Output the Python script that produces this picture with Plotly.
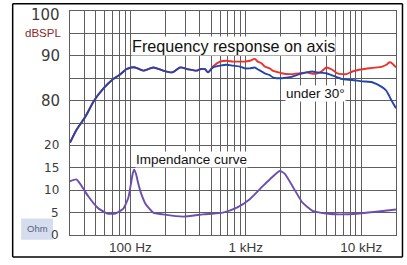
import plotly.graph_objects as go

# ---------------- data ----------------
freq_db = [30, 34, 41, 48, 58, 71, 82, 92, 102, 110, 129, 158, 192, 230, 270, 316, 378, 401,
           443, 470, 520, 597, 686, 773, 888, 980, 1083, 1196, 1269, 1374, 1458, 1610, 1710,
           1850, 2043, 2395, 2922, 3355, 3785, 4180, 4520, 4990, 5510, 6205, 6855, 7430, 8365,
           10200, 12450, 15170, 16500, 17420, 18140, 20000]

spl_30deg = [70.6, 73.4, 76.5, 79.8, 82.6, 84.8, 85.9, 87.0, 87.4, 87.4, 86.7, 87.4, 86.7, 86.3,
             87.4, 87.0, 86.7, 87.0, 87.0, 86.3, 87.4, 87.8, 88.0, 87.8, 87.6, 87.2, 87.2, 87.4,
             87.0, 86.5, 86.1, 85.7, 85.2, 85.0, 85.0, 85.2, 85.9, 86.3, 86.5, 86.3, 86.2, 86.1,
             85.7, 85.2, 84.8, 84.7, 84.6, 84.3, 84.1, 83.0, 82.2, 81.1, 80.2, 78.3]

spl_on_axis = [70.6, 73.4, 76.5, 79.8, 82.6, 84.8, 85.9, 87.0, 87.4, 87.4, 86.7, 87.4, 86.7, 86.3,
               87.4, 87.0, 86.7, 87.0, 87.0, 86.3, 87.6, 88.7, 88.9, 88.7, 88.7, 88.7, 88.9, 89.3,
               88.7, 88.3, 87.6, 87.2, 86.7, 86.4, 86.1, 85.9, 86.1, 86.3, 86.0, 86.1, 86.5, 87.4,
               87.0, 86.1, 85.9, 85.9, 86.5, 87.0, 87.3, 87.6, 88.0, 88.5, 88.5, 87.4]

freq_imp = [30, 34, 37, 43, 52, 63, 74, 87, 96, 102, 105, 108, 112, 117, 125, 135, 158, 192, 286,
            426, 634, 836, 1083, 1402, 1610, 1965, 2170, 2540, 3100, 3785, 4990, 6460, 9620,
            13460, 20000]
impedance = [12.0, 12.4, 11.3, 8.7, 6.1, 4.8, 4.8, 5.9, 8.3, 12.0, 13.8, 14.6, 13.6, 11.5, 9.0,
             7.0, 5.0, 4.6, 4.1, 4.6, 5.0, 6.1, 8.0, 10.9, 12.4, 14.3, 13.7, 10.9, 7.2, 5.4, 4.8,
             4.6, 4.8, 5.2, 5.7]

# dB values share the grid with the Ohm scale: 100 dB sits at grid value 50
DB_OFFSET = 50

x_grid = [30, 40, 50, 60, 70, 80, 90, 100, 200, 300, 400, 500, 600, 700, 800, 900,
          1000, 2000, 3000, 4000, 5000, 6000, 7000, 8000, 9000, 10000, 20000]
x_label_map = {100: "100 Hz", 1000: "1 kHz", 10000: "10 kHz"}
x_text = [x_label_map.get(v, "") for v in x_grid]

y_grid = [0, 5, 10, 15, 20, 25, 30, 35, 40, 45, 50]
ohm_ticks = [0, 5, 10, 15, 20]
db_ticks = [80, 90, 100]

# ---------------- layout helpers ----------------
W, H = 407, 265
L, R, T, B = 70, 10, 10, 25
PW, PH = W - L - R, H - T - B


def px(xp):
    return (xp - L) / PW


def py(yp):
    return (H - B - yp) / PH


grid_col = "#5e5e5e"
label_col = "#3a3a3a"
sans = "Liberation Sans, Arial, sans-serif"

fig = go.Figure()
fig.add_trace(go.Scatter(x=freq_db, y=[v - DB_OFFSET for v in spl_on_axis], mode="lines",
                         line=dict(color="#e8322b", width=1.9, shape="spline", smoothing=0.6),
                         name="on axis", hoverinfo="skip"))
fig.add_trace(go.Scatter(x=freq_db, y=[v - DB_OFFSET for v in spl_30deg], mode="lines",
                         line=dict(color="#2446a8", width=1.9, shape="spline", smoothing=0.6),
                         name="under 30°", hoverinfo="skip"))
fig.add_trace(go.Scatter(x=freq_imp, y=impedance, mode="lines",
                         line=dict(color="#6b4fae", width=1.9, shape="spline", smoothing=0.5),
                         name="impedance", hoverinfo="skip"))

annotations = []
for v in ohm_ticks:
    annotations.append(dict(x=px(61), y=v, xref="paper", yref="y", text=str(v),
                            showarrow=False, xanchor="right", yanchor="middle",
                            font=dict(family="DejaVu Sans, sans-serif", size=12, color=label_col)))
for v in db_ticks:
    annotations.append(dict(x=px(62), y=v - DB_OFFSET, xref="paper", yref="y", text=str(v),
                            showarrow=False, xanchor="right", yanchor="middle",
                            yshift=-4 if v == 100 else 0,
                            font=dict(family="DejaVu Sans, sans-serif", size=15, color=label_col)))
annotations.append(dict(x=px(63), y=95 - DB_OFFSET, xref="paper", yref="y", text="dBSPL",
                        showarrow=False, xanchor="right", yanchor="middle",
                        font=dict(family=sans, size=11.5, color="#8a2a2a")))
annotations.append(dict(x=px(37), y=py(233), xref="paper", yref="paper", text="Ohm",
                        showarrow=False, xanchor="center", yanchor="middle",
                        font=dict(family=sans, size=9.5, color="#55627e")))
annotations.append(dict(x=px(131), y=py(46), xref="paper", yref="paper",
                        text="Frequency response on axis", showarrow=False,
                        xanchor="left", yanchor="middle", bgcolor="white", borderpad=0,
                        font=dict(family=sans, size=16.2, color="#111111")))
annotations.append(dict(x=px(286), y=py(95), xref="paper", yref="paper",
                        text="under 30°", showarrow=False,
                        xanchor="left", yanchor="middle", bgcolor="white", borderpad=0,
                        font=dict(family=sans, size=13.5, color="#111111")))
annotations.append(dict(x=px(135), y=py(162), xref="paper", yref="paper",
                        text="Impendance curve", showarrow=False,
                        xanchor="left", yanchor="middle", bgcolor="white", borderpad=0,
                        font=dict(family=sans, size=13.5, color="#111111")))

border = dict(color="#000000", width=1.5)
bx0, bx1, by0, by1 = px(12.5), px(403.5), py(262.5), py(2.5)
shapes = [
    dict(type="rect", xref="paper", yref="paper", x0=px(21), x1=px(53), y0=py(245), y1=py(223),
         fillcolor="#d5ddee", line=dict(width=0), layer="below"),
    dict(type="line", xref="paper", yref="paper", x0=bx0, x1=bx1, y0=by0, y1=by0, line=border),
    dict(type="line", xref="paper", yref="paper", x0=bx0, x1=bx1, y0=by1, y1=by1, line=border),
    dict(type="line", xref="paper", yref="paper", x0=bx0, x1=bx0, y0=by0, y1=by1, line=border),
    dict(type="line", xref="paper", yref="paper", x0=bx1, x1=bx1, y0=by0, y1=by1, line=border),
]

fig.update_layout(
    width=W, height=H,
    margin=dict(l=L, r=R, t=T, b=B),
    paper_bgcolor="white", plot_bgcolor="white",
    showlegend=False,
    annotations=annotations,
    shapes=shapes,
    xaxis=dict(type="log", range=[1.4771, 4.3010], tickmode="array", tickvals=x_grid,
               ticktext=x_text, showgrid=True, gridcolor=grid_col, gridwidth=1,
               zeroline=False, showline=True, linecolor=grid_col, linewidth=1, mirror=True,
               ticks="", ticklen=0,
               tickfont=dict(family=sans, size=13.5, color=label_col)),
    yaxis=dict(range=[0, 50], tickmode="array", tickvals=y_grid, showticklabels=False,
               showgrid=True, gridcolor=grid_col, gridwidth=1, zeroline=False,
               showline=True, linecolor=grid_col, linewidth=1, mirror=True, ticks=""),
)

fig.write_html("out.html", config={"displayModeBar": False},
               post_script="document.body.style.margin='0';")
